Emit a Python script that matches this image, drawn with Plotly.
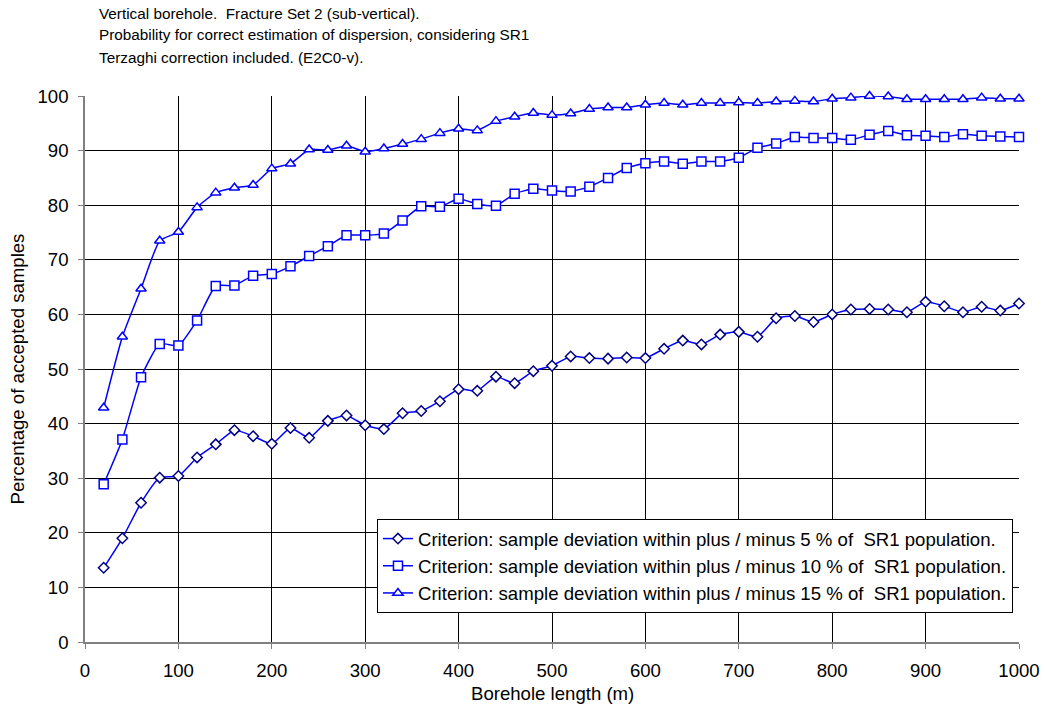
import plotly.graph_objects as go

x_len = list(range(20, 1001, 20))

pct_5 = [13.6, 19.0, 25.5, 30.1, 30.4, 33.8, 36.2, 38.8, 37.7, 36.3,
         39.2, 37.4, 40.5, 41.5, 39.7, 39.0, 41.9, 42.3, 44.1, 46.3,
         46.0, 48.6, 47.4, 49.6, 50.6, 52.3, 52.0, 51.9, 52.1, 52.0,
         53.7, 55.2, 54.5, 56.3, 56.8, 55.9, 59.3, 59.7, 58.6, 60.0,
         60.9, 61.0, 60.9, 60.4, 62.3, 61.5, 60.4, 61.4, 60.7, 62.0]

pct_10 = [28.9, 37.1, 48.5, 54.6, 54.3, 58.9, 65.2, 65.3, 67.1, 67.4,
          68.8, 70.7, 72.5, 74.5, 74.5, 74.8, 77.2, 79.8, 79.7, 81.2,
          80.2, 79.9, 82.1, 83.0, 82.7, 82.5, 83.4, 85.0, 86.8, 87.7,
          88.0, 87.6, 88.0, 88.0, 88.7, 90.5, 91.3, 92.5, 92.3, 92.3,
          92.0, 92.9, 93.6, 92.8, 92.7, 92.5, 93.0, 92.7, 92.6, 92.5]

pct_15 = [42.9, 55.9, 64.7, 73.5, 75.1, 79.6, 82.3, 83.2, 83.7, 86.7,
          87.6, 90.2, 90.1, 90.9, 89.8, 90.4, 91.2, 92.1, 93.2, 94.0,
          93.7, 95.4, 96.2, 96.9, 96.5, 96.8, 97.6, 97.9, 97.9, 98.4,
          98.7, 98.4, 98.7, 98.7, 98.8, 98.7, 99.0, 99.1, 99.0, 99.5,
          99.7, 100.0, 99.9, 99.4, 99.4, 99.4, 99.4, 99.7, 99.5, 99.5]

names = [
    "Criterion: sample deviation within plus / minus 5 % of  SR1 population.",
    "Criterion: sample deviation within plus / minus 10 % of  SR1 population.",
    "Criterion: sample deviation within plus / minus 15 % of  SR1 population.",
]
title_lines = [
    "Vertical borehole.  Fracture Set 2 (sub-vertical).",
    "Probability for correct estimation of dispersion, considering SR1",
    "Terzaghi correction included. (E2C0-v).",
]
y_ticks = list(range(0, 101, 10))
x_ticks = list(range(0, 1001, 100))

FONT = "Liberation Sans, Arial, sans-serif"
FS = 18.6

fig = go.Figure()
styles = [
    ("diamond", 8, "#000080"),
    ("square", 9, "#0000FF"),
    ("triangle-up", 9, "#0000FF"),
]
for vals, name, (sym, size, mcol) in zip([pct_5, pct_10, pct_15], names, styles):
    fig.add_trace(go.Scatter(
        x=x_len, y=vals, name=name, mode="lines+markers",
        line=dict(color="#0000FF", width=1.5, shape="spline", smoothing=0.5),
        marker=dict(symbol=sym, size=size, color="white",
                    line=dict(color=mcol, width=1.5)),
        cliponaxis=False,
    ))

for i, t in enumerate(title_lines):
    fig.add_annotation(
        text=t, xref="paper", yref="paper", x=0.0128, y=(642 - (13 + 22 * i)) / 546,
        xanchor="left", yanchor="middle", showarrow=False,
        font=dict(family=FONT, size=15.3, color="black"),
    )

# x axis title placed just below the tick labels
fig.add_annotation(
    text="Borehole length (m)", xref="paper", yref="paper", x=0.5, y=-(693 - 642) / 546,
    xanchor="center", yanchor="middle", showarrow=False,
    font=dict(family=FONT, size=FS, color="black"),
)

fig.update_layout(
    width=1045, height=704,
    margin=dict(l=85, r=26, t=96, b=62),
    plot_bgcolor="white", paper_bgcolor="white",
    font=dict(family=FONT, size=FS, color="black"),
    showlegend=True,
    legend=dict(
        x=0.3126, y=0.2253, xanchor="left", yanchor="top",
        bgcolor="white", bordercolor="black", borderwidth=1,
        font=dict(family=FONT, size=FS, color="black"),
        itemwidth=30,
    ),
    xaxis=dict(
        range=[0, 1000], tickvals=x_ticks, ticktext=[str(v) for v in x_ticks],
        showgrid=True, gridcolor="black", gridwidth=1,
        showline=True, linecolor="#808080", linewidth=1.5,
        ticks="outside", ticklen=5, tickcolor="#808080",
        ticklabelstandoff=6, zeroline=False, automargin=False,
    ),
    yaxis=dict(
        range=[0, 100], tickvals=y_ticks, ticktext=[str(v) for v in y_ticks],
        showgrid=True, gridcolor="black", gridwidth=1,
        showline=True, linecolor="#808080", linewidth=1.5,
        ticks="outside", ticklen=5, tickcolor="#808080",
        ticklabelstandoff=6, zeroline=False, automargin=False,
        title=dict(text="Percentage of accepted samples", font=dict(family=FONT, size=FS), standoff=8),
    ),
)

fig.write_html("out.html")
